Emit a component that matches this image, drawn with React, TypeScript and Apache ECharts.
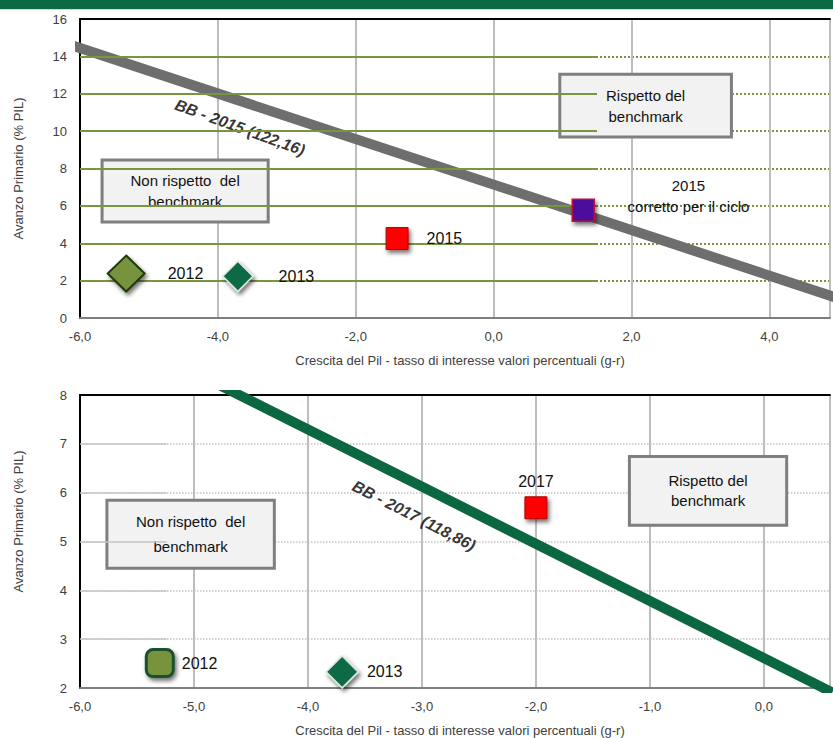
import React, { useEffect, useRef } from "react";
import * as echarts from "echarts";

// ---------- data (top chart: 2015) ----------
const topNames = ["2012", "2013", "2015", "2015\ncorretto per il ciclo"];
const topGap = [-5.33, -3.71, -1.4, 1.3];
const topSurplus = [2.38, 2.23, 4.25, 5.77];
const bb2015X = [-6.2, 5.0];
const bb2015Y = [14.69, 1.05];
const bb2015Label = "BB - 2015 (122,16)";
const topYTicks = [2, 4, 6, 8, 10, 12, 14];

// ---------- data (bottom chart: 2017) ----------
const bottomNames = ["2012", "2013", "2017"];
const bottomGap = [-5.3, -3.7, -2.0];
const bottomSurplus = [2.51, 2.33, 5.69];
const bb2017X = [-4.8, 0.6];
const bb2017Y = [8.23, 1.91];
const bb2017Label = "BB - 2017 (118,86)";
const bottomYTicks = [3, 4, 5, 6, 7];

const boxNo = "Non rispetto  del\nbenchmark";
const boxYes = "Rispetto del\nbenchmark";
const yName = "Avanzo Primario (% PIL)";
const xName = "Crescita del Pil - tasso di interesse valori percentuali (g-r)";

const FONT = "'Liberation Sans', Arial, sans-serif";
const OLIVE = "#7a9540";
const DKGREEN = "#0d6b45";

const fmtX = (v: number) => {
  if (Math.abs(v - Math.round(v)) > 1e-6) return "";
  const n = Math.abs(v) < 1e-9 ? 0 : v;
  return n.toFixed(1).replace(".", ",");
};

const shadow = {
  opacity: 1,
  shadowBlur: 4,
  shadowColor: "rgba(0,0,0,0.55)",
  shadowOffsetX: 2,
  shadowOffsetY: 3,
};

const ptLabel = (extra: any) => ({
  show: true,
  fontFamily: FONT,
  fontSize: 16,
  color: "#111111",
  ...extra,
});

export default function App() {
  const ref = useRef<HTMLDivElement>(null);
  useEffect(() => {
    if (!ref.current) return;
    const chart = echarts.init(ref.current, undefined, { renderer: "svg" });

    const topStyles = [
      { symbol: "diamond", symbolSize: [37, 36], itemStyle: { color: "#77933c", borderColor: "#1f3b0f", borderWidth: 2, ...shadow }, label: ptLabel({ position: "right", distance: 22 }) },
      { symbol: "diamond", symbolSize: [30, 30], itemStyle: { color: DKGREEN, borderColor: "#d9e6dc", borderWidth: 1.5, ...shadow }, label: ptLabel({ position: "right", distance: 25 }) },
      { symbol: "rect", symbolSize: [22, 22], itemStyle: { color: "#ff0000", borderColor: "#b00000", borderWidth: 1, ...shadow }, label: ptLabel({ position: "right", distance: 18 }) },
      { symbol: "rect", symbolSize: [22, 22], itemStyle: { color: "#4b0a9c", borderColor: "#c0103a", borderWidth: 1.5, ...shadow }, label: ptLabel({ position: [117, -2], align: "center", verticalAlign: "middle", fontSize: 15, lineHeight: 21 }) },
    ];
    const bottomStyles = [
      { symbol: "roundRect", symbolSize: [27, 27], itemStyle: { color: "#77933c", borderColor: "#1d4f2f", borderWidth: 3, ...shadow }, label: ptLabel({ position: "right", distance: 7 }) },
      { symbol: "diamond", symbolSize: [32, 32], itemStyle: { color: DKGREEN, borderColor: "#d9e6dc", borderWidth: 1.5, ...shadow }, label: ptLabel({ position: "right", distance: 8 }) },
      { symbol: "rect", symbolSize: [22, 22], itemStyle: { color: "#ff0000", borderColor: "#b00000", borderWidth: 1, ...shadow }, label: ptLabel({ position: "top", distance: 7 }) },
    ];

    const xAxisBase = (grid: number, max: number, interval: number) => ({
      gridIndex: grid,
      type: "value",
      min: -6,
      max,
      interval,
      axisLine: { show: true, onZero: false, lineStyle: { color: "#7f7f7f", width: 2 } },
      axisTick: { show: false },
      axisLabel: { formatter: fmtX, color: "#404040", fontSize: 13, fontFamily: FONT, margin: 12 },
      splitLine: { show: true, lineStyle: { color: "#bdbdbd", width: 2 } },
      name: xName,
      nameLocation: "middle",
      nameGap: 36,
      nameTextStyle: { color: "#404040", fontSize: 13, fontFamily: FONT, padding: [0, 0, 0, 10] },
    });
    const xAxisTop = (grid: number, max: number) => ({
      gridIndex: grid,
      type: "value",
      position: "top",
      min: -6,
      max,
      axisLine: { show: true, onZero: false, lineStyle: { color: "#000", width: 2 } },
      axisTick: { show: false },
      axisLabel: { show: false },
      splitLine: { show: false },
    });
    const yAxisBase = (grid: number, min: number, max: number, interval: number, splitColor: string, w: number, shift: number) => ({
      gridIndex: grid,
      type: "value",
      min,
      max,
      interval,
      axisLine: { show: true, onZero: false, lineStyle: { color: "#000", width: 2 } },
      axisTick: { show: false },
      axisLabel: { color: "#404040", fontSize: 13, fontFamily: FONT, margin: 13 },
      splitLine: { show: true, lineStyle: { color: splitColor, width: w, type: "dotted" } },
      name: yName,
      nameLocation: "middle",
      nameGap: 55,
      nameTextStyle: { color: "#404040", fontSize: 13, fontFamily: FONT, padding: [0, 0, 0, shift] },
    });

    const boxLabel = (lh: number) => ({
      show: true,
      position: "inside",
      color: "#111",
      fontSize: 15,
      fontFamily: FONT,
      lineHeight: lh,
    });
    const boxStyle = { color: "#f2f2f2", borderColor: "#7f7f7f", borderWidth: 3, opacity: 1 };

    const bbLabel = (text: string, rot: number) => ({
      show: true,
      position: "inside",
      formatter: text,
      rotate: rot,
      fontSize: 16,
      fontWeight: "bold",
      fontStyle: "italic",
      fontFamily: FONT,
      color: "#000",
    });

    const option: any = {
      animation: false,
      backgroundColor: "#ffffff",
      graphic: [
        { type: "rect", shape: { x: 0, y: 0, width: 833, height: 9 }, style: { fill: "#0b6a44" } },
        { type: "line", shape: { x1: 0, y1: 9.5, x2: 833, y2: 9.5 }, style: { stroke: "#bfe3d6", lineWidth: 1 } },
      ],
      grid: [
        { left: 80, top: 19, width: 753, height: 299 },
        { left: 80, top: 395, width: 753, height: 294 },
      ],
      xAxis: [
        xAxisBase(0, 4.88, 2),
        xAxisTop(0, 4.88),
        xAxisBase(1, 0.58, 1),
        xAxisTop(1, 0.58),
      ],
      yAxis: [
        yAxisBase(0, 0, 16, 2, OLIVE, 2, 0),
        yAxisBase(1, 2, 8, 1, "#c4c4c4", 1.5, 40),
      ],
      series: [
        // ---- top chart ----
        {
          type: "line",
          xAxisIndex: 0,
          yAxisIndex: 0,
          data: [],
          z: -1,
          silent: true,
          markArea: {
            silent: true,
            itemStyle: boxStyle,
            data: [
              [{ coord: [-5.68, 8.45], name: boxNo, label: boxLabel(21) }, { coord: [-3.27, 5.14] }],
              [{ coord: [0.96, 13.05], name: boxYes, label: boxLabel(21) }, { coord: [3.45, 9.68] }],
            ],
          },
        },
        {
          type: "line",
          xAxisIndex: 0,
          yAxisIndex: 0,
          data: [],
          z: 1,
          silent: true,
          markLine: {
            silent: true,
            symbol: ["none", "none"],
            label: { show: false },
            lineStyle: { type: "solid", color: OLIVE, width: 2 },
            data: topYTicks.map((y) => [{ coord: [-6, y] }, { coord: [1.5, y] }]),
          },
        },
        {
          type: "line",
          xAxisIndex: 0,
          yAxisIndex: 0,
          data: bb2015X.map((x, i) => [x, bb2015Y[i]]),
          symbol: "none",
          clip: true,
          lineStyle: { color: "#6e6e6e", width: 10 },
          z: 3,
        },
        {
          type: "scatter",
          xAxisIndex: 0,
          yAxisIndex: 0,
          data: [[-3.68, 10.2]],
          symbolSize: 1,
          itemStyle: { color: "rgba(0,0,0,0)" },
          label: bbLabel(bb2015Label, -20),
          z: 4,
        },
        {
          type: "scatter",
          xAxisIndex: 0,
          yAxisIndex: 0,
          z: 5,
          data: topNames.map((n, i) => ({
            value: [topGap[i], topSurplus[i]],
            name: n,
            ...topStyles[i],
            label: { ...topStyles[i].label, formatter: n },
          })),
        },
        // ---- bottom chart ----
        {
          type: "line",
          xAxisIndex: 2,
          yAxisIndex: 1,
          data: [],
          z: -1,
          silent: true,
          markArea: {
            silent: true,
            itemStyle: boxStyle,
            data: [
              [{ coord: [-5.764, 5.845], name: boxNo, label: boxLabel(25) }, { coord: [-4.295, 4.45] }],
              [{ coord: [-1.18, 6.74], name: boxYes, label: boxLabel(20) }, { coord: [0.2, 5.335] }],
            ],
          },
        },
        {
          type: "line",
          xAxisIndex: 2,
          yAxisIndex: 1,
          data: [],
          z: 1,
          silent: true,
          markLine: {
            silent: true,
            symbol: ["none", "none"],
            label: { show: false },
            lineStyle: { type: "solid", color: "#c4c4c4", width: 1.5 },
            data: bottomYTicks.map((y) => [{ coord: [-6, y] }, { coord: [-5.24, y] }]),
          },
        },
        {
          type: "line",
          xAxisIndex: 2,
          yAxisIndex: 1,
          data: bb2017X.map((x, i) => [x, bb2017Y[i]]),
          symbol: "none",
          clip: true,
          lineStyle: { color: "#0c6640", width: 10 },
          z: 3,
        },
        {
          type: "scatter",
          xAxisIndex: 2,
          yAxisIndex: 1,
          data: [[-3.07, 5.53]],
          symbolSize: 1,
          itemStyle: { color: "rgba(0,0,0,0)" },
          label: bbLabel(bb2017Label, -27),
          z: 4,
        },
        {
          type: "scatter",
          xAxisIndex: 2,
          yAxisIndex: 1,
          z: 5,
          data: bottomNames.map((n, i) => ({
            value: [bottomGap[i], bottomSurplus[i]],
            name: n,
            ...bottomStyles[i],
            label: { ...bottomStyles[i].label, formatter: n },
          })),
        },
      ],
    };

    chart.setOption(option);
    return () => chart.dispose();
  }, []);

  return (
    <div
      ref={ref}
      style={{ position: "fixed", left: 0, top: 0, width: 833, height: 738, background: "#fff" }}
    />
  );
}
